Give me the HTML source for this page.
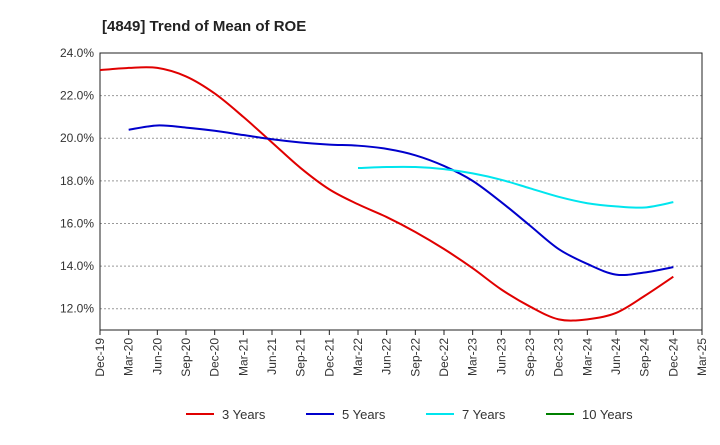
<!DOCTYPE html>
<html><head><meta charset="utf-8"><style>
body{margin:0;background:#fff;font-family:"Liberation Sans",sans-serif;}
svg text{font-family:"Liberation Sans",sans-serif;}
</style></head><body>
<svg id="chart" width="720" height="440" xmlns="http://www.w3.org/2000/svg">
<text x="102" y="31" font-size="15" font-weight="bold" fill="#222">[4849]  Trend of Mean of ROE</text>
<g id="grid"></g><g id="axes"></g><g id="series"></g><g id="legend"></g>
</svg>
<script>
const xLabels=["Dec-19","Mar-20","Jun-20","Sep-20","Dec-20","Mar-21","Jun-21","Sep-21","Dec-21","Mar-22","Jun-22","Sep-22","Dec-22","Mar-23","Jun-23","Sep-23","Dec-23","Mar-24","Jun-24","Sep-24","Dec-24","Mar-25"];
const yTicks=[12,14,16,18,20,22,24];
const s3=[23.2,23.3,23.3,22.9,22.1,21.0,19.8,18.6,17.6,16.9,16.3,15.6,14.8,13.9,12.9,12.1,11.5,11.5,11.8,12.6,13.5];
const s5=[null,20.4,20.6,20.5,20.35,20.15,19.95,19.8,19.7,19.65,19.5,19.2,18.7,18.0,17.0,15.9,14.8,14.1,13.6,13.7,13.95];
const s7=[null,null,null,null,null,null,null,null,null,18.6,18.65,18.65,18.55,18.35,18.05,17.65,17.25,16.95,16.8,16.75,17.0];
const s10=[];
const L=100,R=702,T=53,B=330,yMin=11.0,yMax=24.0;
const X=i=>L+i*(R-L)/(xLabels.length-1);
const Y=v=>B-(v-yMin)/(yMax-yMin)*(B-T);
const NS="http://www.w3.org/2000/svg";
function mk(tag,attrs,parent){const e=document.createElementNS(NS,tag);for(const k in attrs)e.setAttribute(k,attrs[k]);document.getElementById(parent).appendChild(e);return e;}
const fr=mk("rect",{x:L,y:T,width:R-L,height:B-T,fill:"none",stroke:"#222","stroke-width":1},"axes");


yTicks.forEach(v=>{
 const g=mk("line",{x1:L,x2:R,y1:Y(v),y2:Y(v),stroke:"#999","stroke-dasharray":"2,2","stroke-width":1},"grid");
 
 
 const t=mk("text",{x:L-6,y:Y(v)+4,"text-anchor":"end","font-size":12,fill:"#333"},"axes");
 t.textContent=v.toFixed(1)+"%";
 
 
});
xLabels.forEach((lb,i)=>{
 const tk=mk("line",{x1:X(i),x2:X(i),y1:B,y2:B+5,stroke:"#222"},"axes");
 
 
 const t=mk("text",{transform:`translate(${X(i)+4},${B+8}) rotate(-90)`,"text-anchor":"end","font-size":12,fill:"#333"},"axes");
 t.textContent=lb;
 
 
});
function path(arr){
 const pts=[];arr.forEach((v,i)=>{if(v!=null)pts.push([X(i),Y(v)]);});
 if(pts.length<2)return "";
 let d=`M${pts[0][0]},${pts[0][1]}`;
 for(let i=0;i<pts.length-1;i++){
  const p0=pts[Math.max(0,i-1)],p1=pts[i],p2=pts[i+1],p3=pts[Math.min(pts.length-1,i+2)];
  const c1=[p1[0]+(p2[0]-p0[0])/6,p1[1]+(p2[1]-p0[1])/6],c2=[p2[0]-(p3[0]-p1[0])/6,p2[1]-(p3[1]-p1[1])/6];
  d+=` C${c1[0]},${c1[1]} ${c2[0]},${c2[1]} ${p2[0]},${p2[1]}`;
 }
 return d;
}
const series=[["3 Years",s3,"#e00000","line-3-years"],["5 Years",s5,"#0000cc","line-5-years"],["7 Years",s7,"#00e5ee","line-7-years"],["10 Years",s10,"#008000","line-10-years"]];
series.forEach(([n,a,c,id],k)=>{
 const p=mk("path",{d:path(a),fill:"none",stroke:c,"stroke-width":2},"series");
 
 
 const lx=186+k*120;
 const ll=mk("line",{x1:lx,x2:lx+28,y1:414,y2:414,stroke:c,"stroke-width":2},"legend");
 
 
 const lt=mk("text",{x:lx+36,y:419,"font-size":13,fill:"#333"},"legend");
 lt.textContent=n;
 
 
});
</script>
</body></html>
